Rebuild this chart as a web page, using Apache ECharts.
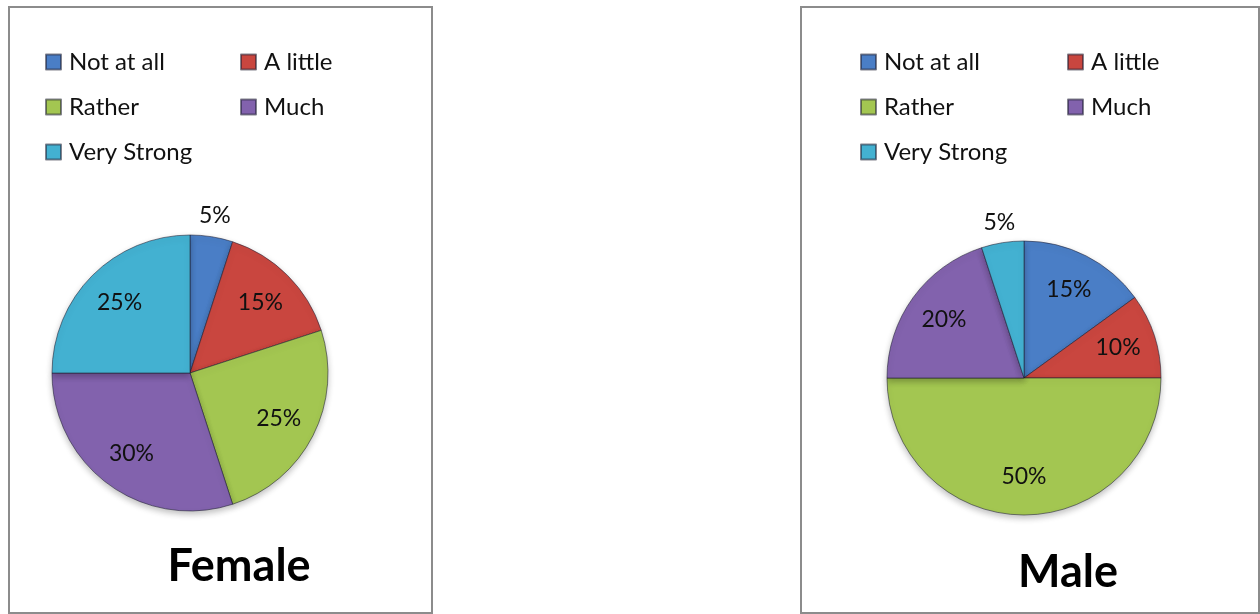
<!DOCTYPE html>
<html>
<head>
<meta charset="utf-8">
<script src="https://cdn.jsdelivr.net/npm/echarts@6/dist/echarts.min.js"></script>
<style>
  html, body { margin: 0; padding: 0; background: #ffffff; }
  #chart { width: 1260px; height: 614px; }
</style>
</head>
<body>
<div id="chart"></div>
<script>
// Response categories shared by both pies
const categories = ['Not at all', 'A little', 'Rather', 'Much', 'Very Strong'];
// Percent of respondents per category
const femaleValues = [5, 15, 25, 30, 25];
const maleValues = [15, 10, 50, 20, 5];
const panelTitles = ['Female', 'Male'];

const palette = ['#4a7ec6', '#c9463f', '#a3c651', '#8262ad', '#43b1d1'];
const FONT = 'Lato, "Open Sans", sans-serif';
const SMALL = 10; // slices below this get their label just outside the rim

const panels = [
  { values: femaleValues, title: panelTitles[0], cx: 190, cy: 373, r: 138,
    box: [9, 7, 423, 606], legendX: 45, legendX2: 240, titleX: 239, titleY: 566 },
  { values: maleValues, title: panelTitles[1], cx: 1024, cy: 378, r: 137,
    box: [801, 7, 458, 606], legendX: 860, legendX2: 1067, titleX: 1068, titleY: 572 }
];

const series = [];
const legends = [];
const titles = [];
const graphics = [];

function items(values, showFn) {
  return categories.map((name, i) => ({
    name,
    value: values[i],
    label: { show: showFn(values[i]) }
  }));
}

const labelStyle = {
  position: 'inside',
  formatter: (d) => d.value + '%',
  color: '#111',
  fontFamily: FONT,
  fontSize: 23
};

panels.forEach((p) => {
  // visible pie
  series.push({
    type: 'pie',
    center: [p.cx, p.cy],
    radius: [0, p.r],
    startAngle: 90,
    clockwise: true,
    animation: false,
    silent: true,
    label: { show: false },
    labelLine: { show: false },
    itemStyle: {
      borderColor: 'rgba(30,30,50,0.55)',
      borderWidth: 1,
      shadowBlur: 6,
      shadowOffsetY: 3,
      shadowColor: 'rgba(0,0,0,0.25)'
    },
    data: categories.map((name, i) => ({
      name, value: p.values[i], itemStyle: { color: palette[i] }
    }))
  });
  // transparent ring carrying the inner labels
  series.push({
    type: 'pie',
    center: [p.cx, p.cy],
    radius: [p.r * 0.4, p.r],
    startAngle: 90,
    clockwise: true,
    animation: false,
    silent: true,
    itemStyle: { color: 'rgba(0,0,0,0)' },
    label: labelStyle,
    labelLine: { show: false },
    data: items(p.values, (v) => v >= SMALL)
  });
  // transparent outer ring for the small-slice labels
  series.push({
    type: 'pie',
    center: [p.cx, p.cy],
    radius: [p.r, p.r * 1.26],
    startAngle: 90,
    clockwise: true,
    animation: false,
    silent: true,
    itemStyle: { color: 'rgba(0,0,0,0)' },
    label: labelStyle,
    labelLine: { show: false },
    data: items(p.values, (v) => v < SMALL)
  });

  const legendBase = {
    orient: 'vertical',
    top: 50,
    padding: 0,
    itemWidth: 15,
    itemHeight: 15,
    itemGap: 21,
    icon: 'rect',
    selectedMode: false,
    textStyle: { fontFamily: FONT, fontSize: 24, color: '#111', lineHeight: 24, padding: [0, 0, 0, 3] }
  };
  legends.push(Object.assign({}, legendBase, {
    left: p.legendX, data: [categories[0], categories[2], categories[4]]
  }));
  legends.push(Object.assign({}, legendBase, {
    left: p.legendX2, data: [categories[1], categories[3]]
  }));

  titles.push({
    text: p.title,
    left: p.titleX,
    top: p.titleY,
    padding: 0,
    textAlign: 'center',
    textVerticalAlign: 'middle',
    textStyle: { fontFamily: FONT, fontWeight: 'bold', fontSize: 45, color: '#000' }
  });

  graphics.push({
    type: 'rect',
    shape: { x: p.box[0], y: p.box[1], width: p.box[2], height: p.box[3] },
    style: { fill: 'none', stroke: '#8c8c8c', lineWidth: 2 },
    silent: true,
    z: -1
  });
});

const chart = echarts.init(document.getElementById('chart'), null, { renderer: 'canvas' });
chart.setOption({
  backgroundColor: '#ffffff',
  animation: false,
  title: titles,
  legend: legends,
  graphic: graphics,
  series
});
</script>
</body>
</html>
